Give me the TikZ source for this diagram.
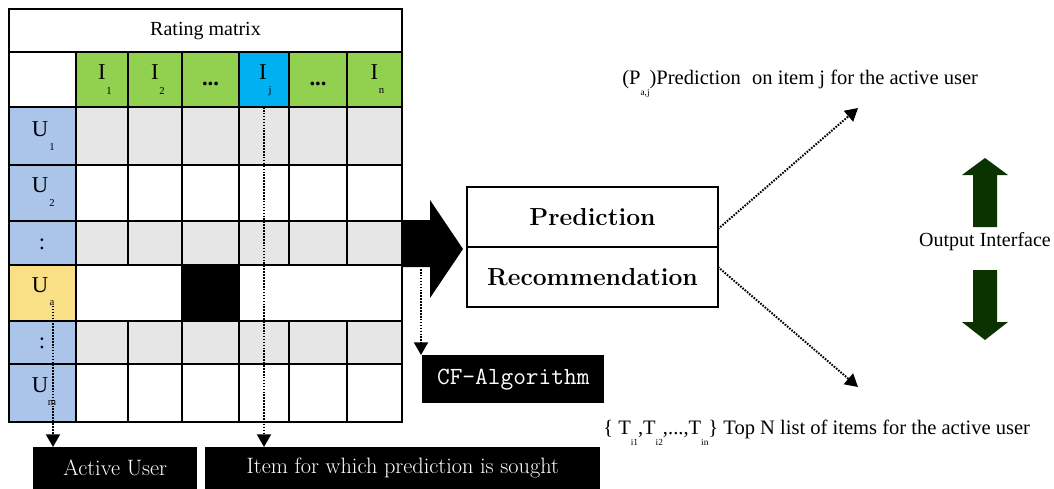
\documentclass[tikz,border=0pt]{standalone}
\usepackage{fontspec}
\newfontfamily\tnr{Liberation Serif}
\usetikzlibrary{arrows.meta,calc}
\definecolor{cgray}{HTML}{E6E6E6}
\definecolor{cblue}{HTML}{ABC4EA}
\definecolor{cyellow}{HTML}{F9DF85}
\definecolor{cgreen}{HTML}{92D050}
\definecolor{ccyan}{HTML}{00B0F0}
\definecolor{dgreen}{HTML}{0A3300}
\newcommand\lowsub[1]{\raisebox{-1.2ex}{\fontsize{7}{8}\selectfont #1}}
\begin{document}
\begin{tikzpicture}[x=0.75pt,y=-0.75pt,
  grid/.style={line width=1.1pt,black},
  celltxt/.style={inner sep=0pt,font=\tnr\fontsize{17}{20}\selectfont},
  subtxt/.style={inner sep=0pt,font=\tnr\fontsize{8}{9}\selectfont},
  plaintxt/.style={inner sep=0pt,font=\tnr\fontsize{15}{18}\selectfont},
  blackbox/.style={fill=black,text=white,inner sep=0pt,anchor=north west,
     font=\fontfamily{lmr}\fontsize{16.7}{20}\selectfont},
  outbox/.style={draw=black,line width=1.5pt,inner sep=0pt,outer sep=0pt,minimum width=188.25pt,
     minimum height=45pt,font=\fontfamily{lmr}\bfseries\fontsize{18.5}{22}\selectfont},
  dotarrow/.style={line width=1.5pt,dash pattern=on 1.2pt off 1.0pt,
     -{Triangle[length=9.5pt,width=10.5pt]}},
  bigarrow/.style={fill=dgreen}]
\useasboundingbox (0,0) rectangle (1054,489);
\fill[white] (0,0) rectangle (1054,489);
% ---- matrix fills
\fill[cgray] (76,107) rectangle (402,165);
\fill[cgray] (76,221) rectangle (402,265);
\fill[cgray] (76,321) rectangle (402,364);
\fill[cblue] (9,107) rectangle (76,265);
\fill[cyellow] (9,265) rectangle (76,321);
\fill[cblue] (9,321) rectangle (76,422);
\fill[cgreen] (76,52) rectangle (402,107);
\fill[ccyan] (239,52) rectangle (289,107);
\fill[black] (182,265) rectangle (239,321);
% ---- matrix grid
\draw[grid] (9,9) rectangle (402,422);
\foreach \yy in {52,107,165,221,265,321,364} \draw[grid] (9,\yy) -- (402,\yy);
\draw[grid] (76,52) -- (76,422);
\foreach \xx in {128,182,239,289,347} {
  \draw[grid] (\xx,52) -- (\xx,265);
  \draw[grid] (\xx,321) -- (\xx,422);
}
\draw[grid] (182,265) -- (182,321);
\draw[grid] (239,265) -- (239,321);
% ---- matrix texts
\node[plaintxt] (title) at (205.5,31) {Rating matrix};
\node[celltxt] (i1) at (102,72) {I};   \node[subtxt] (i1s) at (109,91) {1};
\node[celltxt] (i2) at (155,72) {I};   \node[subtxt] (i2s) at (162,91) {2};
\node[celltxt,font=\tnr\bfseries\fontsize{17}{20}\selectfont] (d1) at (210.5,84) {...};
\node[celltxt] (ij) at (263,72) {I};   \node[subtxt] (ijs) at (270,91) {j};
\node[celltxt,font=\tnr\bfseries\fontsize{17}{20}\selectfont] (d2) at (318,84) {...};
\node[celltxt] (in) at (374.5,72) {I}; \node[subtxt] (ins) at (381.5,91) {n};
\node[celltxt] (u1) at (40,129) {U};   \node[subtxt] (u1s) at (52,147) {1};
\node[celltxt] (u2) at (40,185) {U};   \node[subtxt] (u2s) at (52,203) {2};
\node[celltxt] (c1) at (42,244) {:};
\node[celltxt] (ua) at (40,285) {U};   \node[subtxt] (uas) at (52,303) {a};
\node[celltxt] (c2) at (42,343) {:};
\node[celltxt] (um) at (40,385) {U};   \node[subtxt] (ums) at (52,403) {m};
% ---- big black arrow
\fill[black] (402,220) -- (430,220) -- (430,200) -- (463,249) -- (430,298)
   -- (430,267) -- (402,267) -- cycle;
% ---- prediction / recommendation box
\node[outbox,anchor=north west] (pred) at (467,187) {Prediction};
\node[outbox,anchor=north] (rec) at (pred.south) {Recommendation};
% ---- black label boxes
\node[blackbox,minimum width=123pt,minimum height=31.5pt] (au) at (33,447) {Active User};
\node[blackbox,minimum width=296.25pt,minimum height=31.5pt] (item) at (205,447)
   {Item for which prediction is sought};
\node[blackbox,minimum width=136.5pt,minimum height=36pt,
   font=\fontfamily{lmtt}\fontsize{18.5}{22}\selectfont] (cf) at (422,355) {CF-Algorithm};
% ---- dotted connectors
\coordinate (ijtop) at (264,107);
\coordinate (cfs) at (421,269);
\coordinate (ptip) at (858,108);
\coordinate (ttip) at (858,387);
\draw[dotarrow] (uas.south -| 53,0) -- (au.north -| 53,0);
\draw[dotarrow] (ijtop) -- (ijtop |- item.north);
\draw[dotarrow] (cfs) -- (cfs |- cf.north);
\draw[dotarrow] ($(pred.south east)+(0,-18)$) -- (ptip);
\draw[dotarrow] ($(rec.north east)+(0,20)$) -- (ttip);
% ---- output texts
\node[plaintxt,anchor=base west,font=\tnr\fontsize{15.4}{18}\selectfont] (ptxt) at (622,84)
   {(P\lowsub{a,j})Prediction\hspace{0.3em} on item j for the active user};
\node[plaintxt,anchor=base west,font=\tnr\fontsize{15.4}{18}\selectfont] (ttxt) at (603,434)
   {\{ T\lowsub{i1},T\lowsub{i2},...,T\lowsub{in}\} Top N list of items for the active user};
\node[plaintxt] (oi) at (985,242) {Output Interface};
% ---- green arrows
\fill[bigarrow] (985,158) -- (1008,175) -- (997,175) -- (997,227) -- (973,227)
   -- (973,175) -- (962,175) -- cycle;
\fill[bigarrow] (985,340) -- (1008,322) -- (997,322) -- (997,270) -- (973,270)
   -- (973,322) -- (962,322) -- cycle;
\end{tikzpicture}
\end{document}
